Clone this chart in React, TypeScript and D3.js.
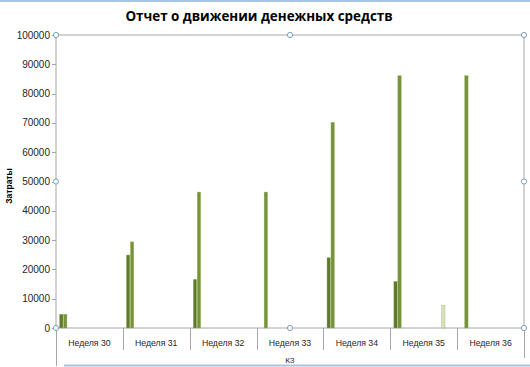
import * as d3 from "d3";

const weeks = ["Неделя 30", "Неделя 31", "Неделя 32", "Неделя 33", "Неделя 34", "Неделя 35", "Неделя 36"];

// Excel-style clustered columns: 15 series, most of them empty
const seriesNames = [
  "Ряд1", "Ряд2", "Ряд3", "Ряд4", "Ряд5", "Ряд6", "Ряд7", "Ряд8",
  "Ряд9", "Ряд10", "Ряд11", "Ряд12", "Ряд13", "Ряд14", "Ряд15",
];
const seriesA = [4700, 24900, 16600, 0, 24000, 15900, 0];
const seriesB = [4700, 29400, 46400, 46400, 70200, 86100, 86100];
const seriesM = [0, 0, 0, 0, 0, 7700, 0];
const empty = [0, 0, 0, 0, 0, 0, 0];
const seriesValues = [
  seriesA, seriesB, empty, empty, empty, empty, empty, empty,
  empty, empty, empty, empty, seriesM, empty, empty,
];
const seriesColors: Record<string, string> = {
  "Ряд1": "#5f7a2e",
  "Ряд2": "#76923c",
  "Ряд13": "#d6e0c3",
};

const yTicks = [0, 10000, 20000, 30000, 40000, 50000, 60000, 70000, 80000, 90000, 100000];

const W = 530;
const H = 367;
const left = 56;
const right = 524;
const top = 35;
const bottom = 328;

export default function App() {
  const x = d3.scaleBand<string>().domain(weeks).range([left, right]).paddingInner(0).paddingOuter(0);
  const inner = d3.scaleBand<string>().domain(seriesNames).range([0, x.bandwidth()]).paddingInner(0).paddingOuter(0.9);
  const y = d3.scaleLinear().domain([0, 100000]).range([bottom, top]);

  const axisGray = "#a6a6a6";
  const handle = "#7f9cc0";
  const midX = (left + right) / 2;
  const midY = (top + bottom) / 2;
  const handles = [
    [left, top], [midX, top], [right, top],
    [left, midY], [right, midY],
    [left, bottom], [midX, bottom], [right, bottom],
  ];

  return (
    <svg width={W} height={H} style={{ position: "absolute", left: 0, top: 0, background: "#fff" }}
      fontFamily="'Liberation Sans', Arial, sans-serif">
      {/* chart area frame */}
      <line x1={0} x2={W} y1={1} y2={1} stroke="#a9c3e3" strokeWidth={2} />
      <line x1={64} x2={W} y1={365.5} y2={365.5} stroke="#a9c3e3" strokeWidth={2} />

      <text x={259} y={21} textAnchor="middle" fontSize={13.4} fontWeight="bold" fill="#000"
        fontFamily="'Open Sans', sans-serif">Отчет о движении денежных средств</text>

      {/* plot area border */}
      <rect x={left} y={top} width={right - left} height={bottom - top} fill="none" stroke={axisGray} strokeWidth={1} />

      {/* y axis */}
      {yTicks.map((t) => (
        <g key={t}>
          <line x1={left - 4} x2={left} y1={Math.round(y(t)) + 0.5} y2={Math.round(y(t)) + 0.5} stroke={axisGray} />
          <text x={left - 6} y={y(t)} dy="0.35em" textAnchor="end" fontSize={10} fill="#262626">{t}</text>
        </g>
      ))}
      <text transform={`translate(12,186) rotate(-90)`} textAnchor="middle" fontSize={8.5} fontWeight="bold" fill="#000">Затраты</text>

      {/* category separators */}
      {weeks.map((w) => (
        <line key={w} x1={Math.round(x(w)!) + 0.5} x2={Math.round(x(w)!) + 0.5} y1={bottom} y2={350} stroke={axisGray} />
      ))}
      <line x1={left + 0.5} x2={left + 0.5} y1={bottom} y2={366} stroke={axisGray} />
      <line x1={right + 0.5} x2={right + 0.5} y1={bottom} y2={358} stroke={axisGray} />
      {weeks.map((w) => (
        <text key={w} x={x(w)! + x.bandwidth() / 2} y={343} dy="0.35em" textAnchor="middle" fontSize={8.7} fill="#262626">{w}</text>
      ))}
      <text x={290} y={362.5} textAnchor="middle" fontSize={8} fill="#262626">КЗ</text>

      {/* bars */}
      {seriesNames.map((s, si) =>
        weeks.map((w, wi) => {
          const v = seriesValues[si][wi];
          if (!v) return null;
          const bx = x(w)! + inner(s)!;
          const bw = inner.bandwidth();
          return (
            <rect key={s + w} x={bx} y={y(v)} width={bw - 0.6} height={y(0) - y(v)}
              fill={seriesColors[s] || "#76923c"} stroke="#9bb55f" strokeWidth={0.4} />
          );
        })
      )}

      {/* selection handles */}
      {handles.map(([hx, hy], i) => (
        <circle key={i} cx={hx} cy={hy} r={2.6} fill="#fff" stroke={handle} strokeWidth={1} />
      ))}
    </svg>
  );
}
